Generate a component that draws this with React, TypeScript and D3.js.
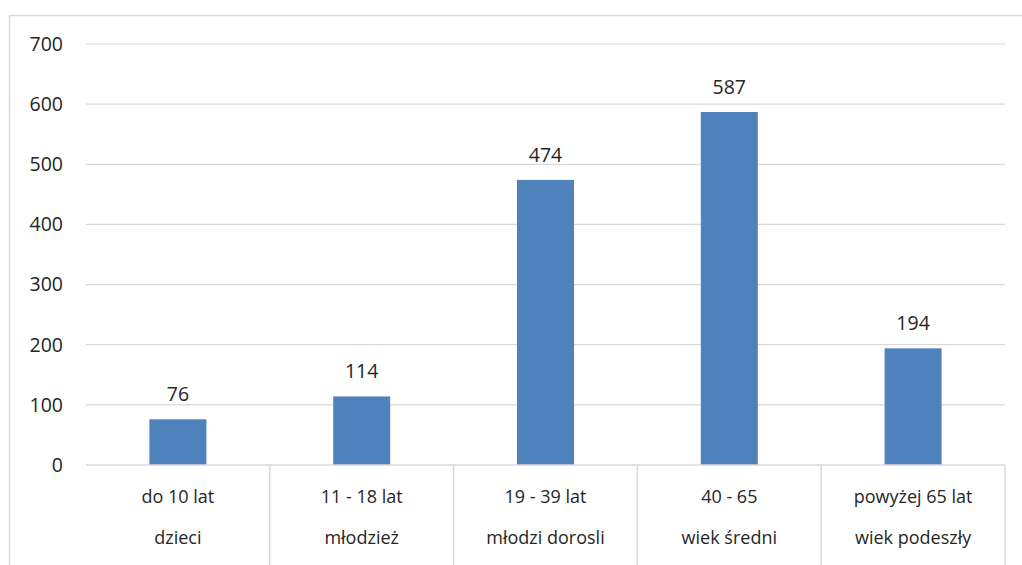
import React from "react";
import * as d3 from "d3";

const categories = ["do 10 lat", "11 - 18 lat", "19 - 39 lat", "40 - 65", "powyżej 65 lat"];
const groups = ["dzieci", "młodzież", "młodzi dorosli", "wiek średni", "wiek podeszły"];
const values = [76, 114, 474, 587, 194];
const yTicks = [0, 100, 200, 300, 400, 500, 600, 700];

const W = 1022;
const H = 565;
const FONT = "Open Sans, Noto Sans, sans-serif";

export default function App() {
  const x0 = 86;
  const x1 = 1005;
  const yTop = 44;
  const yBot = 465;
  const x = d3.scaleBand<number>().domain(d3.range(categories.length)).range([x0, x1]).paddingInner(0).paddingOuter(0);
  const y = d3.scaleLinear().domain([0, 700]).range([yBot, yTop]);
  const bw = x.bandwidth() * 0.31;
  const grid = "#d9d9d9";
  const txt = "#262626";
  return (
    <svg width={W} height={H} style={{ position: "absolute", left: 0, top: 0, background: "#fff" }}>
      <rect x={9.5} y={15.5} width={W + 10} height={H + 10} fill="none" stroke={grid} strokeWidth={1.5} />
      {yTicks.map((t) => (
        <g key={t}>
          {t > 0 && <line x1={x0} x2={x1} y1={y(t)} y2={y(t)} stroke={grid} strokeWidth={1.2} />}
          <text x={63} y={y(t)} dy="0.35em" textAnchor="end" fontFamily={FONT} fontSize={19.5} fill={txt}>
            {t}
          </text>
        </g>
      ))}
      {values.map((v, i) => {
        const cx = (x(i) as number) + x.bandwidth() / 2;
        return (
          <g key={i}>
            <rect x={cx - bw / 2} y={y(v)} width={bw} height={yBot - y(v)} fill="#4f81bd" />
            <text x={cx} y={y(v) - 25} dy="0.35em" textAnchor="middle" fontFamily={FONT} fontSize={19.5} fill={txt}>
              {v}
            </text>
          </g>
        );
      })}
      <line x1={x0} x2={x1} y1={yBot} y2={yBot} stroke={grid} strokeWidth={1.5} />
      {categories.map((c, i) => {
        const left = x(i) as number;
        const right = left + x.bandwidth();
        const cx = left + x.bandwidth() / 2;
        return (
          <g key={c}>
            <line x1={right} x2={right} y1={yBot} y2={H} stroke={grid} strokeWidth={1.5} />
            <text x={cx} y={497} dy="0.35em" textAnchor="middle" fontFamily={FONT} fontSize={18} fill={txt}>
              {c}
            </text>
            <text x={cx} y={538} dy="0.35em" textAnchor="middle" fontFamily={FONT} fontSize={18} fill={txt}>
              {groups[i]}
            </text>
          </g>
        );
      })}
    </svg>
  );
}
